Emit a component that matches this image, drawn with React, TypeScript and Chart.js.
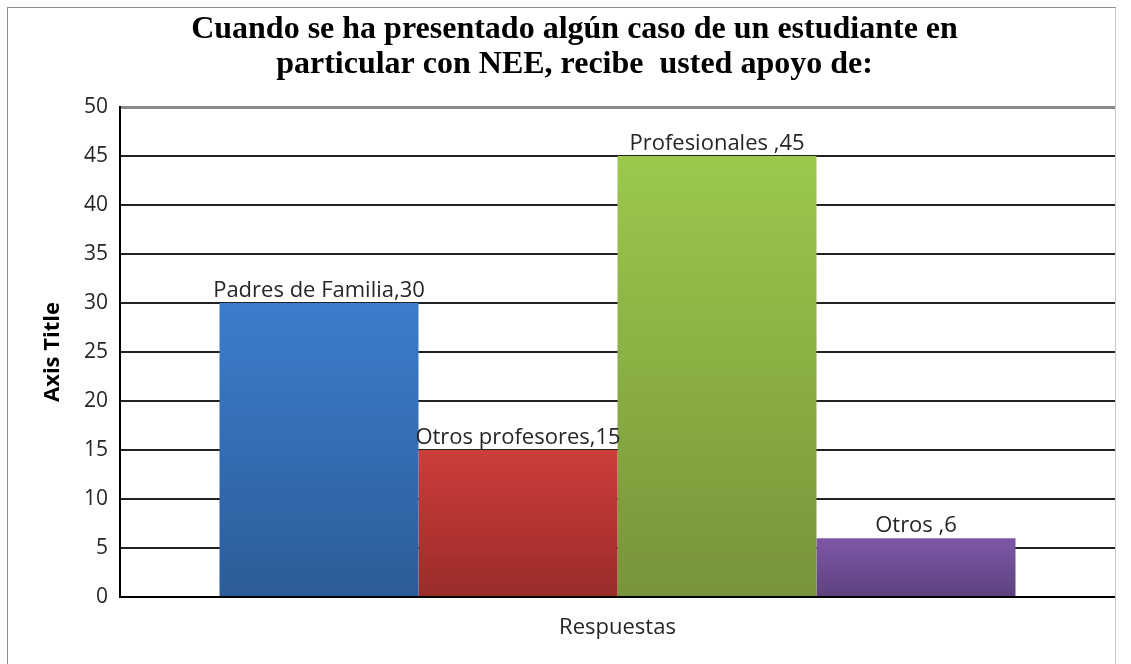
import React, { useEffect, useRef } from 'react';
import { Chart, registerables } from 'chart.js';

Chart.register(...registerables);

const categories = ['Respuestas'];
const seriesNames = ['Padres de Familia', 'Otros profesores', 'Profesionales ', 'Otros '];
const seriesValues = [30, 15, 45, 6];
const topColors = ['#3B7DCC', '#CD3D3A', '#9CC84C', '#7E57A8'];
const bottomColors = ['#2D5C98', '#992B29', '#77943A', '#5D427E'];
const yMin = 0;
const yMax = 50;
const yStep = 5;
const titleLines = [
  'Cuando se ha presentado algún caso de un estudiante en',
  'particular con NEE, recibe  usted apoyo de:',
];
const yAxisTitle = 'Axis Title';

const SANS = '"Open Sans", "Liberation Sans", sans-serif';

const barLabelPlugin = {
  id: 'barLabels',
  afterDatasetsDraw(chart: any) {
    const ctx = chart.ctx;
    ctx.save();
    ctx.font = `22px ${SANS}`;
    ctx.fillStyle = '#262626';
    ctx.textAlign = 'center';
    ctx.textBaseline = 'bottom';
    chart.data.datasets.forEach((ds: any, i: number) => {
      const meta = chart.getDatasetMeta(i);
      meta.data.forEach((el: any, j: number) => {
        ctx.fillText(`${ds.label},${ds.data[j]}`, el.x, el.y - 1);
      });
    });
    ctx.restore();
  },
};

export default function App() {
  const canvasRef = useRef<HTMLCanvasElement | null>(null);

  useEffect(() => {
    const canvas = canvasRef.current;
    if (!canvas) return;
    const chart = new Chart(canvas, {
      type: 'bar',
      data: {
        labels: categories,
        datasets: seriesNames.map((name, i) => ({
          label: name,
          data: [seriesValues[i]],
          backgroundColor: (c: any) => {
            const ch = c.chart;
            const area = ch.chartArea;
            if (!area || !c.parsed) return topColors[i];
            const ys = ch.scales.y;
            const yTop = ys.getPixelForValue(c.parsed.y);
            const yBot = ys.getPixelForValue(0);
            const g = ch.ctx.createLinearGradient(0, yTop, 0, yBot);
            g.addColorStop(0, topColors[i]);
            g.addColorStop(1, bottomColors[i]);
            return g;
          },
          borderWidth: 0,
          barPercentage: 1,
          categoryPercentage: 0.8,
        })),
      },
      options: {
        responsive: false,
        animation: false,
        devicePixelRatio: 1,
        layout: { padding: { left: 26, right: 0, top: 0, bottom: 0 } },
        plugins: {
          legend: { display: false },
          tooltip: { enabled: false },
          title: {
            display: true,
            text: titleLines,
            color: '#000',
            font: { family: '"Liberation Serif", serif', size: 32, weight: 'bold', lineHeight: 1.094 },
            padding: { top: 4, bottom: 25 },
          },
        },
        scales: {
          x: {
            grid: { display: false, drawTicks: false },
            border: { color: '#000', width: 2 },
            ticks: { color: '#262626', font: { family: SANS, size: 22 }, padding: 18 },
            afterFit: (s: any) => { s.height = 67; },
          },
          y: {
            min: yMin,
            max: yMax,
            ticks: { stepSize: yStep, color: '#262626', font: { family: SANS, size: 21 }, padding: 12 },
            grid: {
              drawTicks: false,
              color: (c: any) => (c.tick && c.tick.value === yMax ? '#8a8a8a' : '#222'),
              lineWidth: (c: any) => (c.tick && c.tick.value === yMax ? 3 : 2),
            },
            border: { color: '#000', width: 2 },
            title: {
              display: true,
              text: yAxisTitle,
              color: '#000',
              font: { family: SANS, size: 22, weight: 'bold' },
              padding: { top: 6, bottom: 0 },
            },
            afterFit: (s: any) => { s.width = 86; },
          },
        },
      },
      plugins: [barLabelPlugin],
    } as any);
    return () => chart.destroy();
  }, []);

  return (
    <>
      <style>{`body{margin:0;overflow:hidden;background:#fff}`}</style>
      <div
        style={{
          position: 'absolute',
          left: 7,
          top: 7,
          width: 1109,
          height: 670,
          borderLeft: '1px solid #8c8c8c',
          borderTop: '1px solid #8c8c8c',
          borderRight: '1px solid #c8c8c8',
          boxSizing: 'border-box',
        }}
      />
      <canvas
        ref={canvasRef}
        width={1107}
        height={656}
        style={{ position: 'absolute', left: 8, top: 8, width: 1107, height: 656 }}
      />
    </>
  );
}
